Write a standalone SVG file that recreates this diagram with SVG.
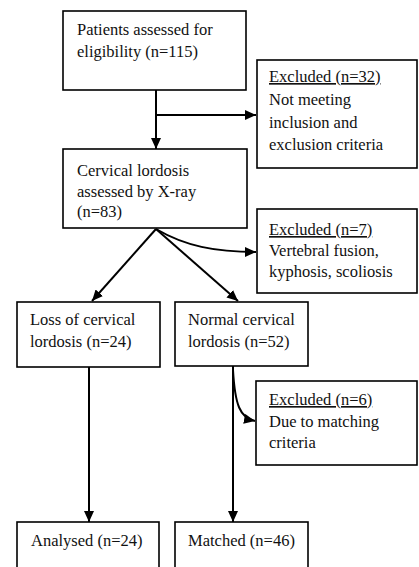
<svg xmlns="http://www.w3.org/2000/svg" width="419" height="567" viewBox="0 0 419 567">
<defs>
<marker id="ah" markerUnits="userSpaceOnUse" markerWidth="12" markerHeight="10" refX="11" refY="5" orient="auto">
<path d="M0,0 L11,5 L0,10 Z" fill="#000"/>
</marker>
<style>
.box{fill:#fff;stroke:#000;stroke-width:1.6}
.t{font-family:"Liberation Serif","Times New Roman",serif;font-size:16.5px;fill:#111}
.u{text-decoration:underline}
.c{fill:none;stroke:#000;stroke-width:2;marker-end:url(#ah)}
.l{fill:none;stroke:#000;stroke-width:2}
</style>
</defs>
<rect width="419" height="567" fill="#fff"/>
<g id="connectors">
<path class="c" d="M156,90 L156,149"/>
<path class="c" d="M156,115 L256,115"/>
<path class="c" d="M156,229 L92,301"/>
<path class="c" d="M156,229 L238,301"/>
<path class="c" d="M156,229 C185,246 215,252 256,252"/>
<path class="c" d="M89,367 L89,522"/>
<path class="c" d="M233,366 L233,522"/>
<path class="c" d="M233,370 C235,405 240,418 255,421"/>
</g>
<g id="n1">
<rect class="box" x="63" y="11" width="183" height="79"/>
<text class="t" x="77" y="35">Patients assessed for</text>
<text class="t" x="77" y="57">eligibility (n=115)</text>
</g>
<g id="n2">
<rect class="box" x="257" y="60" width="160" height="108"/>
<text class="t u" x="269" y="82">Excluded (n=32)</text>
<text class="t" x="269" y="105">Not meeting</text>
<text class="t" x="269" y="128">inclusion and</text>
<text class="t" x="269" y="150">exclusion criteria</text>
</g>
<g id="n3">
<rect class="box" x="63" y="149" width="184" height="79"/>
<text class="t" x="77" y="176">Cervical lordosis</text>
<text class="t" x="77" y="197">assessed by X-ray</text>
<text class="t" x="77" y="217">(n=83)</text>
</g>
<g id="n4">
<rect class="box" x="257" y="209" width="160" height="84"/>
<text class="t u" x="269" y="235">Excluded (n=7)</text>
<text class="t" x="269" y="256">Vertebral fusion,</text>
<text class="t" x="269" y="277">kyphosis, scoliosis</text>
</g>
<g id="n5">
<rect class="box" x="17" y="302" width="143" height="65"/>
<text class="t" x="30" y="325">Loss of cervical</text>
<text class="t" x="30" y="347">lordosis (n=24)</text>
</g>
<g id="n6">
<rect class="box" x="175" y="302" width="133" height="64"/>
<text class="t" x="188" y="325">Normal cervical</text>
<text class="t" x="188" y="347">lordosis (n=52)</text>
</g>
<g id="n7">
<rect class="box" x="256" y="381" width="161" height="84"/>
<text class="t u" x="269" y="405">Excluded (n=6)</text>
<text class="t" x="269" y="427">Due to matching</text>
<text class="t" x="269" y="448">criteria</text>
</g>
<g id="n8">
<rect class="box" x="17" y="522" width="142" height="60"/>
<text class="t" x="31" y="546">Analysed (n=24)</text>
</g>
<g id="n9">
<rect class="box" x="175" y="522" width="133" height="60"/>
<text class="t" x="188" y="546">Matched (n=46)</text>
</g>
</svg>
